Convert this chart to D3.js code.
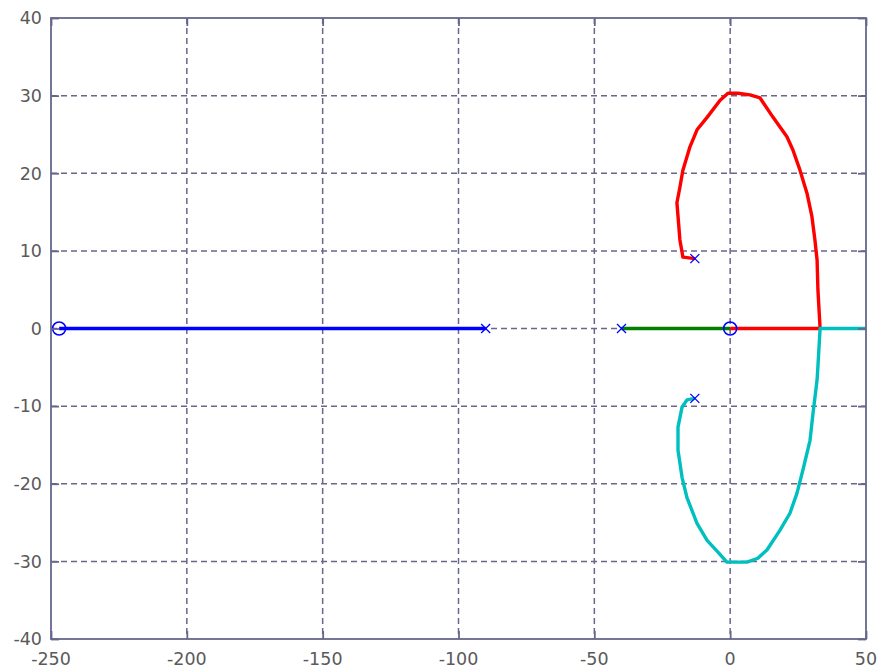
<!DOCTYPE html>
<html>
<head>
<meta charset="utf-8">
<script src="https://cdn.jsdelivr.net/npm/d3@7"></script>
<style>
  body { margin: 0; background: #fff; }
  svg { display: block; }
  text { font-family: "DejaVu Sans", Verdana, sans-serif; font-size: 17.5px; fill: #5a5a5a; }
</style>
</head>
<body>
<svg id="chart" width="880" height="670"></svg>
<script>
// Root locus branches: [real, imag] points
const blueBranch = [[-90, 0], [-247, 0]];
const greenBranch = [[-40, 0], [0, 0]];
const redBranch = [
  [-13, 9], [-17.4, 9.2], [-18.5, 11.4], [-19.6, 16.2], [-18.5, 18.2], [-17.4, 20.4],
  [-14.8, 23.4], [-12.2, 25.6], [-8.5, 27.2], [-3.7, 29.4], [-0.8, 30.3], [2.9, 30.3],
  [7.3, 30.1], [11, 29.7], [15.8, 27.2], [20.9, 24.7], [23.1, 23.0], [25.7, 20.4],
  [28.3, 17.4], [30.1, 14.4], [31.2, 11.4], [32, 8.8], [32.3, 5.0], [33.1, 0], [0, 0]
];
const cyanBranch = [
  [-13, -9], [-15.9, -9.2], [-17.7, -10.1], [-19.2, -12.7], [-19.2, -15.7], [-17.7, -19.2],
  [-15.9, -21.8], [-12.2, -25.1], [-8.5, -27.3], [-4.5, -28.8], [-1.2, -30.1], [6.2, -30.1],
  [10.2, -29.6], [13.6, -28.5], [18.3, -26.0], [22, -23.8], [24.6, -21.2], [26.8, -18.2],
  [29.4, -14.4], [30.5, -10.9], [32, -6.6], [32.3, -4.9], [33.1, 0], [55, 0]
];
const poles = [[-90, 0], [-40, 0], [-13, 9], [-13, -9]];
const zeros = [[-247, 0], [0, 0]];
const xTicks = [-250, -200, -150, -100, -50, 0, 50];
const yTicks = [-40, -30, -20, -10, 0, 10, 20, 30, 40];

const W = 880, H = 670;
const margin = { left: 51, right: 14, top: 18, bottom: 31 };
const svg = d3.select("#chart");
const axisColor = "#67678a";

const x = d3.scaleLinear().domain([-250, 50]).range([margin.left, W - margin.right]);
const y = d3.scaleLinear().domain([-40, 40]).range([H - margin.bottom, margin.top]);

svg.append("defs").append("clipPath").attr("id", "plotClip")
  .append("rect")
  .attr("x", x(-250)).attr("y", y(40))
  .attr("width", x(50) - x(-250)).attr("height", y(-40) - y(40));

// dashed grid
const grid = svg.append("g");
grid.selectAll(".gx").data(xTicks.slice(1, -1)).join("line")
  .attr("x1", d => x(d)).attr("x2", d => x(d))
  .attr("y1", y(40)).attr("y2", y(-40))
  .attr("stroke", axisColor).attr("stroke-width", 1.5).attr("stroke-dasharray", "6,4");
grid.selectAll(".gy").data(yTicks.slice(1, -1)).join("line")
  .attr("y1", d => y(d)).attr("y2", d => y(d))
  .attr("x1", x(-250)).attr("x2", x(50))
  .attr("stroke", axisColor).attr("stroke-width", 1.5).attr("stroke-dasharray", "6,4");

// locus branches
const line = d3.line().x(d => x(d[0])).y(d => y(d[1]));
const plot = svg.append("g").attr("clip-path", "url(#plotClip)");
[[blueBranch, "#0000ff"], [greenBranch, "#007f00"], [redBranch, "#ff0000"], [cyanBranch, "#00bfbf"]]
  .forEach(([data, color]) => {
    plot.append("path").datum(data).attr("d", line)
      .attr("fill", "none").attr("stroke", color).attr("stroke-width", 3.4)
      .attr("stroke-linejoin", "round");
  });

// pole markers (x)
const s = 4.5;
plot.selectAll(".pole").data(poles).join("path")
  .attr("d", d => {
    const cx = x(d[0]), cy = y(d[1]);
    return `M${cx - s},${cy - s}L${cx + s},${cy + s}M${cx - s},${cy + s}L${cx + s},${cy - s}`;
  })
  .attr("stroke", "#0000ff").attr("stroke-width", 1.3).attr("fill", "none");

// zero markers (o)
plot.selectAll(".zero").data(zeros).join("circle")
  .attr("cx", d => x(d[0])).attr("cy", d => y(d[1])).attr("r", 6.5)
  .attr("fill", "none").attr("stroke", "#0000ff").attr("stroke-width", 1.6);

// frame with inward ticks
const axes = svg.append("g");
const xAxisB = d3.axisBottom(x).tickValues(xTicks).tickSize(-8).tickFormat("");
const xAxisT = d3.axisTop(x).tickValues(xTicks).tickSize(-8).tickFormat("");
const yAxisL = d3.axisLeft(y).tickValues(yTicks).tickSize(-8).tickFormat("");
const yAxisR = d3.axisRight(y).tickValues(yTicks).tickSize(-8).tickFormat("");
[[xAxisB, `translate(0,${y(-40)})`], [xAxisT, `translate(0,${y(40)})`],
 [yAxisL, `translate(${x(-250)},0)`], [yAxisR, `translate(${x(50)},0)`]].forEach(([ax, tr]) => {
  const g = axes.append("g").attr("transform", tr).call(ax);
  g.selectAll("path, line").attr("stroke", axisColor).attr("stroke-width", 1.8);
  g.select(".domain").attr("d", null);
});
axes.append("rect")
  .attr("x", x(-250)).attr("y", y(40))
  .attr("width", x(50) - x(-250)).attr("height", y(-40) - y(40))
  .attr("fill", "none").attr("stroke", axisColor).attr("stroke-width", 1.8);

// tick labels
svg.selectAll(".xl").data(xTicks).join("text")
  .attr("x", d => x(d)).attr("y", 665).attr("text-anchor", "middle").text(d => d);
svg.selectAll(".yl").data(yTicks).join("text")
  .attr("x", 42).attr("y", d => y(d)).attr("dy", "0.36em").attr("text-anchor", "end").text(d => d);
</script>
</body>
</html>
